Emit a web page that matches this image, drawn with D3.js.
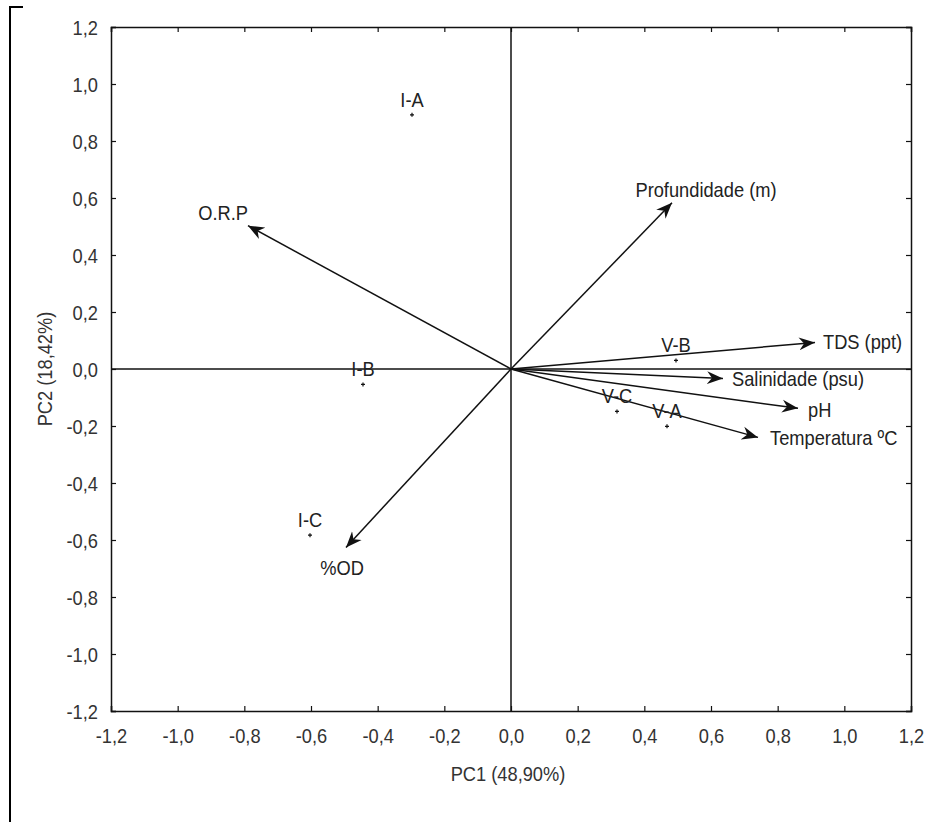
<!DOCTYPE html>
<html>
<head>
<meta charset="utf-8">
<script src="https://cdn.jsdelivr.net/npm/d3@7"></script>
<style>
  body { margin: 0; background: #fff; }
  svg { display: block; font-family: "Liberation Sans", Arial, sans-serif; }
</style>
</head>
<body>
<div id="chart"></div>
<script>
// sample scores (PC1, PC2)
const sampleNames = ["I-A", "I-B", "I-C", "V-A", "V-B", "V-C"];
const samplePC1 = [-0.297, -0.444, -0.603, 0.468, 0.495, 0.318];
const samplePC2 = [0.892, -0.054, -0.583, -0.201, 0.030, -0.149];

// variable loadings (PC1, PC2)
const varNames = ["TDS (ppt)", "Salinidade (psu)", "pH", "Temperatura ºC", "Profundidade (m)", "O.R.P", "%OD"];
const varPC1 = [0.912, 0.636, 0.861, 0.741, 0.483, -0.789, -0.495];
const varPC2 = [0.093, -0.033, -0.138, -0.240, 0.583, 0.503, -0.626];

const ticks = [-1.2, -1.0, -0.8, -0.6, -0.4, -0.2, 0.0, 0.2, 0.4, 0.6, 0.8, 1.0, 1.2];

const width = 927, height = 822;
const margin = {top: 27, right: 16, bottom: 111, left: 111};
const fontSize = 21;
const narrow = 0.87; // the original font is a condensed sans

// label placement for the arrow labels (dx, dy from arrow tip, anchor)
const varLabelPos = {
  "TDS (ppt)": [8, 7, "start"],
  "Salinidade (psu)": [9, 8, "start"],
  "pH": [10, 9, "start"],
  "Temperatura ºC": [12, 8, "start"],
  "Profundidade (m)": [34, -6, "middle"],
  "O.R.P": [0, -6, "end"],
  "%OD": [-4, 28, "middle"]
};

const svg = d3.select("#chart").append("svg")
  .attr("width", width)
  .attr("height", height);

const x = d3.scaleLinear([-1.2, 1.2], [margin.left, width - margin.right]);
const y = d3.scaleLinear([-1.2, 1.2], [height - margin.bottom, margin.top]);

// outer frame fragment on the left
svg.append("path")
  .attr("d", "M23,7H10V822")
  .attr("fill", "none")
  .attr("stroke", "#000")
  .attr("stroke-width", 2);

const fmt = d => d3.format(".1f")(d).replace(".", ",").replace("−", "-");

// axes with inward ticks
const gx = svg.append("g")
  .attr("transform", `translate(0,${y(-1.2)})`)
  .call(d3.axisBottom(x).tickValues(ticks).tickSize(-5).tickPadding(17).tickFormat(fmt));
const gy = svg.append("g")
  .attr("transform", `translate(${x(-1.2)},0)`)
  .call(d3.axisLeft(y).tickValues(ticks).tickSize(-5).tickPadding(13 / narrow).tickFormat(fmt));

svg.append("g")
  .attr("transform", `translate(0,${y(1.2)})`)
  .call(d3.axisTop(x).tickValues(ticks).tickSize(-5).tickFormat(""));
svg.append("g")
  .attr("transform", `translate(${x(1.2)},0)`)
  .call(d3.axisRight(y).tickValues(ticks).tickSize(-5).tickFormat(""));

svg.selectAll(".domain").attr("stroke", "#111").attr("stroke-width", 1.5);
svg.selectAll(".tick line").attr("stroke", "#111").attr("stroke-width", 1.2);
svg.selectAll(".tick text")
  .attr("font-size", fontSize)
  .attr("fill", "#333")
  .attr("font-family", null)
  .attr("transform", `scale(${narrow},1)`);
gx.selectAll("text").attr("dy", "0.71em");
gy.selectAll("text").attr("dy", "0.36em");

// zero lines
svg.append("line")
  .attr("x1", x(-1.2)).attr("x2", x(1.2))
  .attr("y1", y(0)).attr("y2", y(0))
  .attr("stroke", "#111").attr("stroke-width", 1.5);
svg.append("line")
  .attr("x1", x(0)).attr("x2", x(0))
  .attr("y1", y(-1.2)).attr("y2", y(1.2))
  .attr("stroke", "#111").attr("stroke-width", 1.5);

// axis titles
svg.append("text")
  .attr("transform", `translate(${x(0) - 3},781) scale(${narrow},1)`)
  .attr("text-anchor", "middle")
  .attr("font-size", fontSize)
  .attr("fill", "#333")
  .text("PC1 (48,90%)");

svg.append("text")
  .attr("transform", `translate(52,${y(0)}) rotate(-90) scale(${narrow},1)`)
  .attr("text-anchor", "middle")
  .attr("font-size", fontSize)
  .attr("fill", "#333")
  .text("PC2 (18,42%)");

// arrowhead
svg.append("defs").append("marker")
  .attr("id", "head")
  .attr("viewBox", "-16 -7 18 14")
  .attr("refX", 0).attr("refY", 0)
  .attr("markerWidth", 18).attr("markerHeight", 14)
  .attr("markerUnits", "userSpaceOnUse")
  .attr("orient", "auto")
  .append("path")
  .attr("d", "M0,0L-16,-6.5L-11,0L-16,6.5Z")
  .attr("fill", "#111");

const vars = varNames.map((n, i) => ({name: n, pc1: varPC1[i], pc2: varPC2[i]}));

svg.append("g")
  .selectAll("line")
  .data(vars)
  .join("line")
  .attr("x1", x(0)).attr("y1", y(0))
  .attr("x2", d => x(d.pc1)).attr("y2", d => y(d.pc2))
  .attr("stroke", "#111")
  .attr("stroke-width", 1.5)
  .attr("marker-end", "url(#head)");

svg.append("g")
  .attr("font-size", fontSize)
  .attr("fill", "#222")
  .selectAll("text")
  .data(vars)
  .join("text")
  .attr("transform", d => `translate(${x(d.pc1) + varLabelPos[d.name][0]},${y(d.pc2) + varLabelPos[d.name][1]}) scale(${narrow},1)`)
  .attr("text-anchor", d => varLabelPos[d.name][2])
  .text(d => d.name);

// sample points (small crosses) with labels
const samples = sampleNames.map((n, i) => ({name: n, pc1: samplePC1[i], pc2: samplePC2[i]}));

const pts = svg.append("g")
  .selectAll("g")
  .data(samples)
  .join("g")
  .attr("transform", d => `translate(${x(d.pc1)},${y(d.pc2)})`);

pts.append("path")
  .attr("d", "M-2,0H2M0,-2V2")
  .attr("stroke", "#111")
  .attr("stroke-width", 1.2);

pts.append("text")
  .attr("transform", `translate(0,-8) scale(${narrow},1)`)
  .attr("text-anchor", "middle")
  .attr("font-size", fontSize)
  .attr("fill", "#222")
  .text(d => d.name);
</script>
</body>
</html>
